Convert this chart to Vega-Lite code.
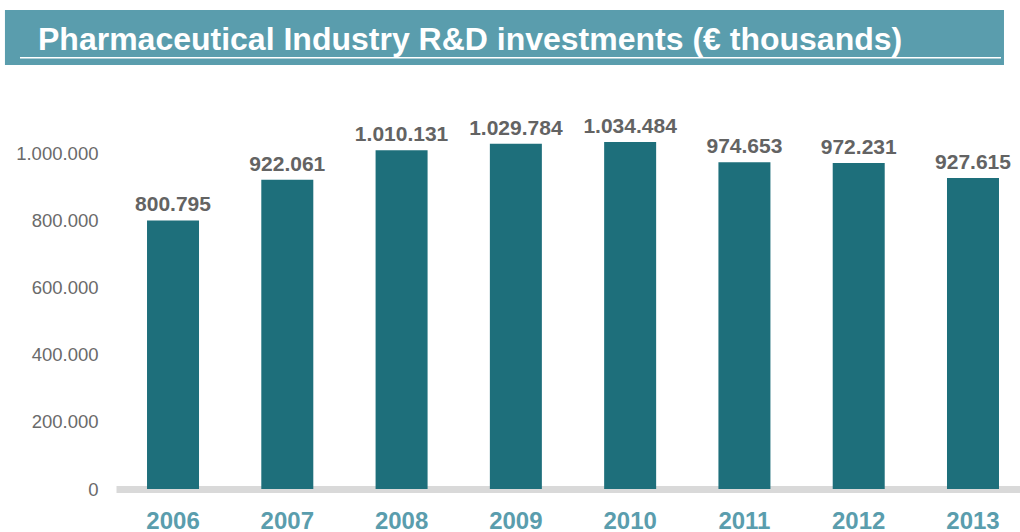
{
  "$schema": "https://vega.github.io/schema/vega-lite/v6.json",
  "padding": {"left": 4, "top": 10, "right": 0, "bottom": 0},
  "background": "white",
  "spacing": 35,
  "config": {
    "locale": {"number": {"decimal": ",", "thousands": ".", "grouping": [3], "currency": ["€", ""]}},
    "font": "Liberation Sans",
    "view": {"stroke": null}
  },
  "vconcat": [
    {
      "width": 905,
      "height": 55,
      "data": {"values": [{"title": "Pharmaceutical Industry R&D investments (€ thousands)", "bx": -0.1227, "bx2": 0.9812, "by": 0, "by2": 1, "tx": -0.0862, "ty": 0.27, "ux": -0.1061, "ux2": 0.9779, "uy": 0.13}]},
      "layer": [
        {
          "mark": {"type": "rect", "color": "#5a9dad"},
          "encoding": {
            "x": {"field": "bx", "type": "quantitative", "scale": {"domain": [0, 1]}, "axis": null},
            "x2": {"field": "bx2"},
            "y": {"field": "by", "type": "quantitative", "scale": {"domain": [0, 1]}, "axis": null},
            "y2": {"field": "by2"}
          }
        },
        {
          "mark": {"type": "rule", "color": "white", "strokeWidth": 1.5},
          "encoding": {
            "x": {"field": "ux", "type": "quantitative", "scale": {"domain": [0, 1]}, "axis": null},
            "x2": {"field": "ux2"},
            "y": {"field": "uy", "type": "quantitative", "scale": {"domain": [0, 1]}, "axis": null}
          }
        },
        {
          "mark": {"type": "text", "align": "left", "baseline": "alphabetic", "color": "white", "fontSize": 32, "fontWeight": "bold"},
          "encoding": {
            "x": {"field": "tx", "type": "quantitative", "scale": {"domain": [0, 1]}, "axis": null},
            "y": {"field": "ty", "type": "quantitative", "scale": {"domain": [0, 1]}, "axis": null},
            "text": {"field": "title"}
          }
        }
      ]
    },
    {
      "width": 905,
      "height": 389,
      "data": {"values": [
        {"year": "2006", "value": 800795},
        {"year": "2007", "value": 922061},
        {"year": "2008", "value": 1010131},
        {"year": "2009", "value": 1029784},
        {"year": "2010", "value": 1034484},
        {"year": "2011", "value": 974653},
        {"year": "2012", "value": 972231},
        {"year": "2013", "value": 927615}
      ]},
      "encoding": {
        "x": {
          "field": "year", "type": "ordinal",
          "scale": {"paddingInner": 0.545, "paddingOuter": 0.232, "align": 0.585},
          "axis": {"title": null, "labelAngle": 0, "labelFontSize": 24, "labelFontWeight": "bold", "labelColor": "#5a9dad", "labelPadding": 20, "ticks": false, "domainColor": "#d9d9d9", "domainWidth": 7, "zindex": 0}
        },
        "y": {
          "field": "value", "type": "quantitative",
          "scale": {"domain": [0, 1160000]},
          "axis": {"title": null, "values": [0, 200000, 400000, 600000, 800000, 1000000], "labelExpr": "format(datum.value, ',')", "grid": false, "domain": false, "ticks": false, "labelFontSize": 18.5, "labelColor": "#6a6a6a", "labelPadding": 18}
        }
      },
      "layer": [
        {"mark": {"type": "bar", "color": "#1e6f7b"}},
        {
          "mark": {"type": "text", "baseline": "bottom", "dy": -5, "fontSize": 21, "fontWeight": "bold", "color": "#636363"},
          "encoding": {"text": {"field": "value", "type": "quantitative", "format": ","}}
        }
      ]
    }
  ]
}
